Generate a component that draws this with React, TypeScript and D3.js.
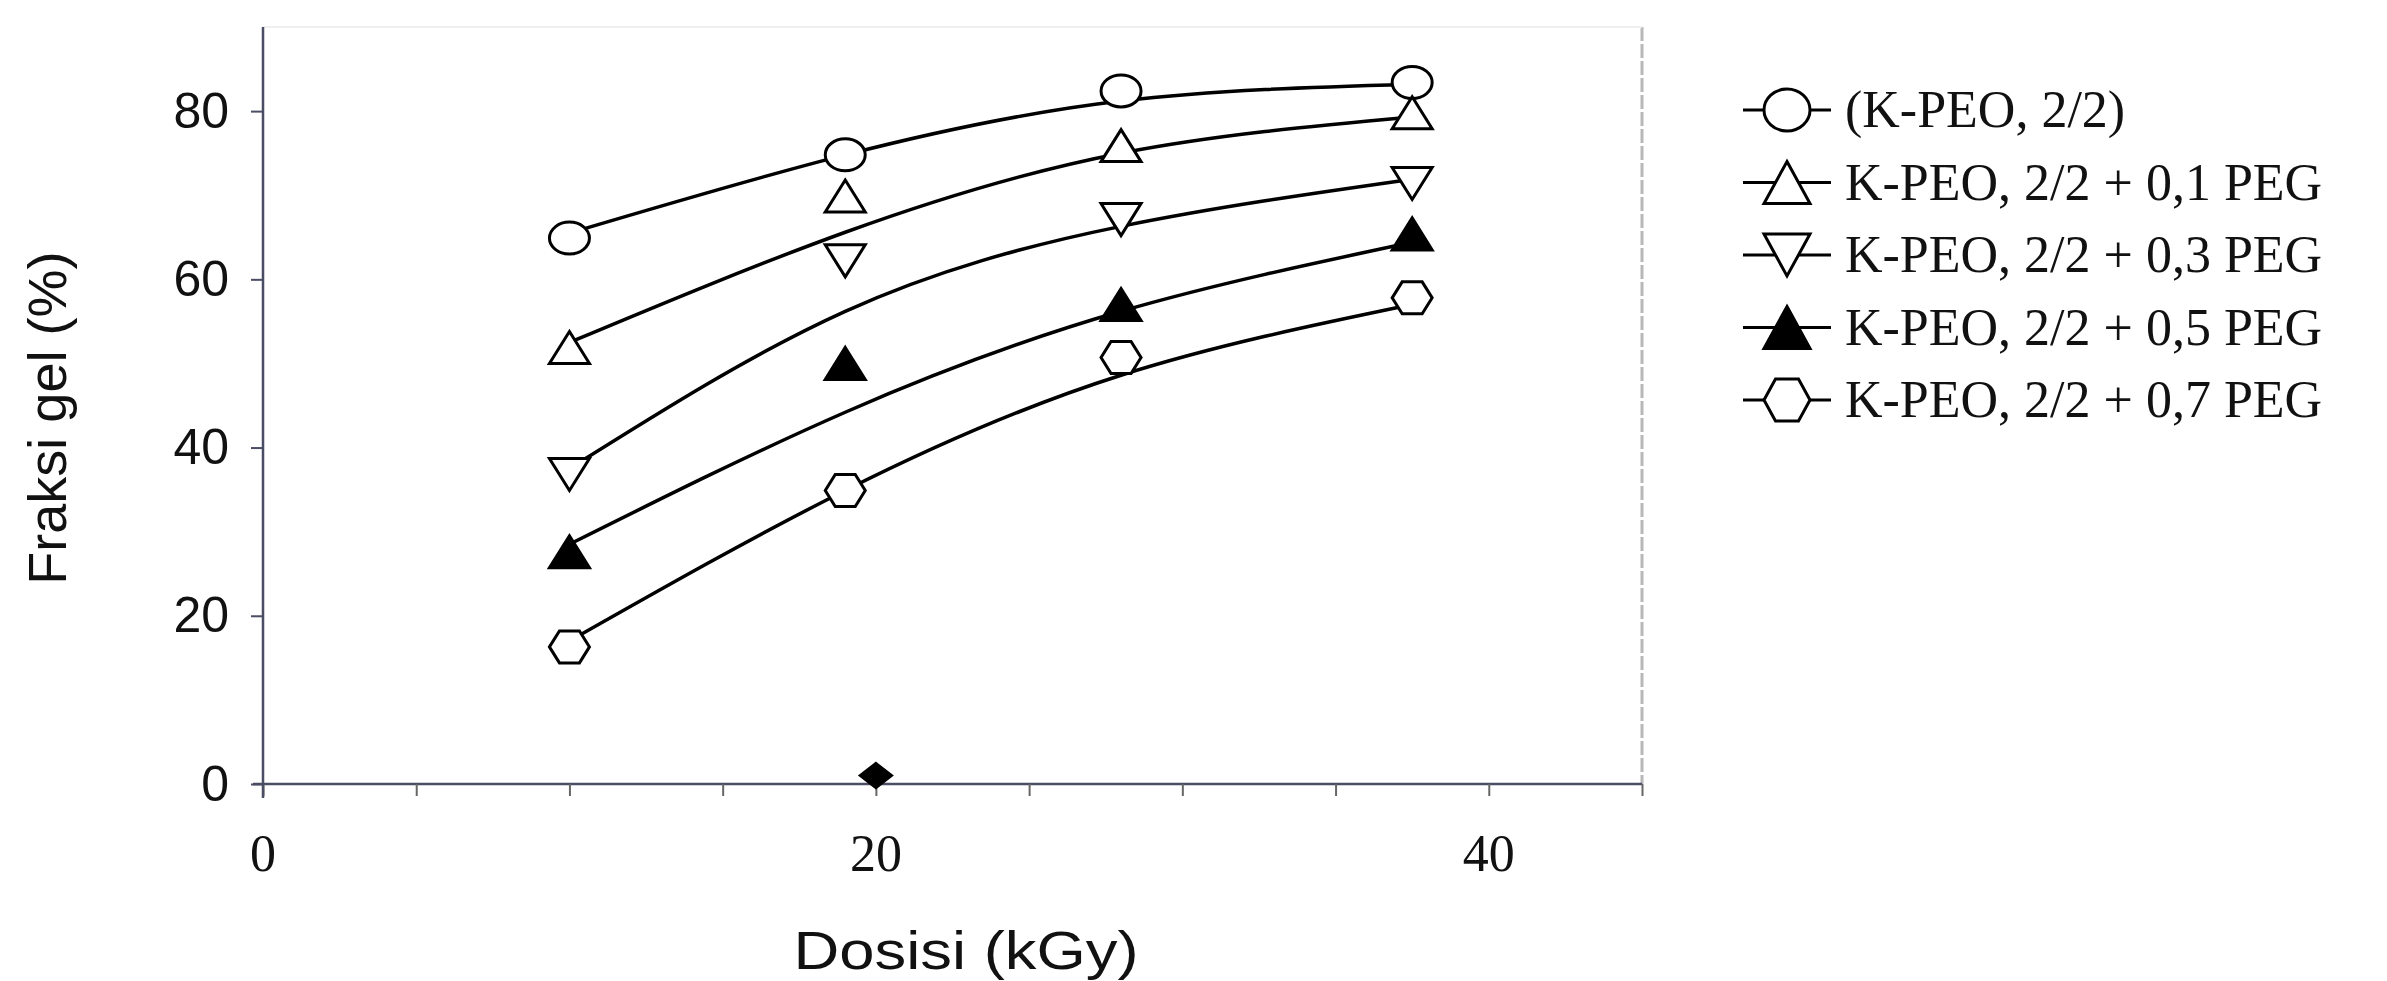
import React, { useEffect, useRef } from 'react'
import * as d3 from 'd3'

// dose (kGy) of each measurement
const doses = [10, 19, 28, 37.5]

const seriesNames = [
  '(K-PEO, 2/2)',
  'K-PEO, 2/2 + 0,1 PEG',
  'K-PEO, 2/2 + 0,3 PEG',
  'K-PEO, 2/2 + 0,5 PEG',
  'K-PEO, 2/2 + 0,7 PEG'
]

// measured gel fraction (%)
const kpeo = [64.9, 74.8, 82.4, 83.4]
const peg01 = [51.9, 69.9, 75.9, 79.8]
const peg03 = [36.8, 62.2, 67.1, 71.4]
const peg05 = [27.6, 50.0, 57.0, 65.4]
const peg07 = [16.3, 34.9, 50.7, 57.8]

// smoothed curves as they are drawn through the points
const kpeoFit = [65.5, 74.8, 81.2, 83.2]
const peg01Fit = [52.5, 65.6, 75.0, 79.3]
const peg03Fit = [37.5, 56.2, 66.3, 71.9]
const peg05Fit = [28.5, 44.2, 56.2, 64.4]
const peg07Fit = [17.0, 34.9, 48.6, 57.0]

// lone filled diamond sitting on the x axis
const strayPoint = { dose: 20, value: 1 }

const xLabelTicks = [0, 20, 40]
const xMinorTicks = [0, 5, 10, 15, 20, 25, 30, 35, 40, 45]
const yTicks = [0, 20, 40, 60, 80]

const shapes = ['circle', 'triangle', 'triangleDown', 'triangleFilled', 'hexagon']
const values = [kpeo, peg01, peg03, peg05, peg07]
const fits = [kpeoFit, peg01Fit, peg03Fit, peg05Fit, peg07Fit]

const W = 2387
const H = 981
const margin = { top: 27, left: 263, right: 745, bottom: 197 }

const markerPath = (shape, w, h) => {
  const a = w / 2
  const b = h / 2
  if (shape === 'circle') {
    return `M${-a},0A${a},${b} 0 1,0 ${a},0A${a},${b} 0 1,0 ${-a},0Z`
  }
  if (shape === 'triangle' || shape === 'triangleFilled') {
    return `M0,${-b}L${a},${b}L${-a},${b}Z`
  }
  if (shape === 'triangleDown') {
    return `M${-a},${-b}L${a},${-b}L0,${b}Z`
  }
  if (shape === 'diamond') {
    return `M0,${-b}L${a},0L0,${b}L${-a},0Z`
  }
  const c = a * 0.5
  return `M${-a},0L${-c},${-b}L${c},${-b}L${a},0L${c},${b}L${-c},${b}Z`
}

const App = () => {
  const ref = useRef(null)

  useEffect(() => {
    const svg = d3.select(ref.current)
    svg.selectAll('*').remove()

    const x = d3.scaleLinear()
      .domain([0, 45])
      .range([margin.left, W - margin.right])

    const y = d3.scaleLinear()
      .domain([0, 90])
      .range([H - margin.bottom, margin.top])

    const axisColor = '#4a4d63'

    // faint frame on top and right
    svg.append('line')
      .attr('x1', x(45)).attr('x2', x(45))
      .attr('y1', y(90)).attr('y2', y(0))
      .attr('stroke', '#b8b8b8')
      .attr('stroke-width', 3)
      .attr('stroke-dasharray', '14,3')
    svg.append('line')
      .attr('x1', x(0)).attr('x2', x(45))
      .attr('y1', y(90)).attr('y2', y(90))
      .attr('stroke', '#f0f0f0')
      .attr('stroke-width', 2)

    // x axis
    const xAxis = svg.append('g')
      .attr('transform', `translate(0,${y(0)})`)
      .call(d3.axisBottom(x).tickValues(xMinorTicks).tickSize(12).tickFormat(() => ''))
    xAxis.select('.domain')
      .attr('d', `M${x(0) - 10},0H${x(45)}`)
      .attr('stroke', axisColor)
      .attr('stroke-width', 2.5)
    xAxis.selectAll('.tick line').attr('stroke', '#666').attr('stroke-width', 2)

    svg.append('g')
      .selectAll('text')
      .data(xLabelTicks)
      .join('text')
      .attr('x', d => x(d))
      .attr('y', y(0) + 87)
      .attr('text-anchor', 'middle')
      .attr('font-family', '"Liberation Serif", "Times New Roman", serif')
      .attr('font-size', 52)
      .attr('fill', '#111')
      .text(d => d)

    // y axis
    const yAxis = svg.append('g')
      .attr('transform', `translate(${x(0)},0)`)
      .call(d3.axisLeft(y).tickValues(yTicks).tickSize(12).tickPadding(22))
    yAxis.select('.domain')
      .attr('d', `M0,${y(90)}V${y(0) + 14}`)
      .attr('stroke', axisColor)
      .attr('stroke-width', 2.5)
    yAxis.selectAll('.tick line').attr('stroke', axisColor).attr('stroke-width', 2)
    yAxis.selectAll('.tick text')
      .attr('font-family', '"Liberation Sans", Arial, sans-serif')
      .attr('font-size', 50)
      .attr('fill', '#111')

    // axis titles
    svg.append('text')
      .attr('transform', `translate(66,${y(43.5)}) rotate(-90)`)
      .attr('text-anchor', 'middle')
      .attr('font-family', '"Liberation Sans", Arial, sans-serif')
      .attr('font-size', 54)
      .attr('fill', '#111')
      .text('Fraksi gel (%)')

    svg.append('text')
      .attr('x', 966)
      .attr('y', 969)
      .attr('text-anchor', 'middle')
      .attr('font-family', '"Liberation Sans", Arial, sans-serif')
      .attr('font-size', 54)
      .attr('textLength', 345)
      .attr('lengthAdjust', 'spacingAndGlyphs')
      .attr('fill', '#111')
      .text('Dosisi (kGy)')

    // curves
    const line = d3.line()
      .x(d => x(d[0]))
      .y(d => y(d[1]))
      .curve(d3.curveNatural)

    fits.forEach(fit => {
      svg.append('path')
        .datum(doses.map((d, i) => [d, fit[i]]))
        .attr('fill', 'none')
        .attr('stroke', '#000')
        .attr('stroke-width', 3.5)
        .attr('d', line)
    })

    // markers
    values.forEach((vals, s) => {
      svg.append('g')
        .selectAll('path')
        .data(doses.map((d, i) => [d, vals[i]]))
        .join('path')
        .attr('transform', d => `translate(${x(d[0])},${y(d[1])})`)
        .attr('d', markerPath(shapes[s], 40, 32))
        .attr('fill', shapes[s] === 'triangleFilled' ? '#000' : '#fff')
        .attr('stroke', '#000')
        .attr('stroke-width', 3)
    })

    svg.append('path')
      .attr('transform', `translate(${x(strayPoint.dose)},${y(strayPoint.value)})`)
      .attr('d', markerPath('diamond', 36, 28))
      .attr('fill', '#000')

    // legend
    const legend = svg.append('g').attr('transform', 'translate(1743,110)')
    const rows = legend.selectAll('g')
      .data(seriesNames)
      .join('g')
      .attr('transform', (d, i) => `translate(0,${i * 72.5})`)
    rows.append('line')
      .attr('x1', 0).attr('x2', 88)
      .attr('stroke', '#000')
      .attr('stroke-width', 3)
    rows.append('path')
      .attr('transform', 'translate(44,0)')
      .attr('d', (d, i) => markerPath(shapes[i], 46, 42))
      .attr('fill', (d, i) => shapes[i] === 'triangleFilled' ? '#000' : '#fff')
      .attr('stroke', '#000')
      .attr('stroke-width', 3)
    rows.append('text')
      .attr('x', 102)
      .attr('y', 17)
      .attr('font-family', '"Liberation Serif", "Times New Roman", serif')
      .attr('font-size', 52)
      .attr('fill', '#111')
      .text(d => d)
  }, [])

  return (
    <div style={{ position: 'fixed', left: 0, top: 0, background: '#fff' }}>
      <svg width={W} height={H} ref={ref} style={{ display: 'block' }} />
    </div>
  )
}

export default App
